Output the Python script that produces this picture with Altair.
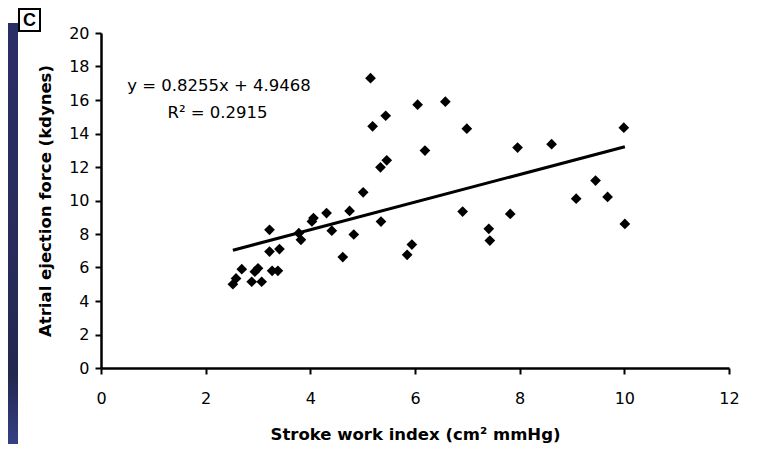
import altair as alt
import pandas as pd

# Data
stroke_work = [2.52, 2.58, 2.69, 2.88, 2.94, 3.00, 3.07, 3.22, 3.22, 3.27, 3.38, 3.41,
               3.78, 3.82, 4.03, 4.06, 4.31, 4.41, 4.62, 4.75, 4.83, 5.01, 5.15, 5.19,
               5.35, 5.34, 5.44, 5.46, 5.85, 5.94, 6.05, 6.19, 6.58, 6.91, 6.99, 7.41,
               7.43, 7.82, 7.96, 8.61, 9.08, 9.45, 9.68, 9.99, 10.01]
ejection_force = [5.00, 5.35, 5.90, 5.15, 5.75, 5.95, 5.15, 6.95, 8.25, 5.80, 5.80, 7.10,
                  8.05, 7.65, 8.75, 8.95, 9.25, 8.20, 6.62, 9.38, 7.97, 10.49, 17.30, 14.43,
                  8.74, 11.98, 15.06, 12.40, 6.76, 7.37, 15.72, 12.98, 15.90, 9.34, 14.29, 8.31,
                  7.61, 9.20, 13.16, 13.36, 10.11, 11.19, 10.21, 14.35, 8.60]

# Trend line endpoints (y = 0.8255x + 4.9468 at the data's min / max x)
trend_x = [2.52, 10.01]
trend_y = [7.03, 13.21]

equation_lines = ["y = 0.8255x + 4.9468", "R² = 0.2915"]
equation_x = [0.5, 1.27]
equation_y = [16.83, 15.2]

x_ticks = [0, 2, 4, 6, 8, 10, 12]
y_ticks = [0, 2, 4, 6, 8, 10, 12, 14, 16, 18, 20]

FONT = "Liberation Sans"
WIDE = "DejaVu Sans"

pts = pd.DataFrame({"x": stroke_work, "y": ejection_force})
trend = pd.DataFrame({"x": trend_x, "y": trend_y})
eq = pd.DataFrame({"x": equation_x, "y": equation_y, "t": equation_lines})
one = pd.DataFrame({"a": [0]})

xscale = alt.Scale(domain=[0, 12], nice=False, zero=False)
yscale = alt.Scale(domain=[0, 20], nice=False, zero=False)

x_axis = alt.Axis(values=x_ticks, title="Stroke work index (cm² mmHg)", grid=False,
                  domainColor="black", domainWidth=2.5, tickColor="black", tickWidth=2,
                  tickSize=6, labelPadding=16, labelFontSize=16, labelFont=WIDE,
                  labelColor="black", titleFont=WIDE, titleFontSize=16.5,
                  titleFontWeight="bold", titleColor="black", titlePadding=20,
                  labelFlush=False, labelOverlap=False)
y_axis = alt.Axis(values=y_ticks, title="Atrial ejection force (kdynes)", grid=False,
                  domainColor="black", domainWidth=2.5, tickColor="black", tickWidth=2,
                  tickSize=6, labelPadding=6, labelFontSize=16, labelFont=WIDE,
                  labelColor="black", titleFont=WIDE, titleFontSize=16.5,
                  titleFontWeight="bold", titleColor="black", titlePadding=15,
                  labelFlush=False, labelOverlap=False)

band = alt.Chart(one).mark_rect(
    color=alt.Gradient(
        gradient="linear", x1=0, y1=0, x2=0, y2=1,
        stops=[alt.GradientStop(color="#2a2e66", offset=0),
               alt.GradientStop(color="#272c5c", offset=0.5),
               alt.GradientStop(color="#222850", offset=0.82),
               alt.GradientStop(color="#38448c", offset=1)])
).encode(x=alt.value(-93), x2=alt.value(-83), y=alt.value(-10), y2=alt.value(420))

cbox = alt.Chart(one).mark_rect(fill="white", stroke="black", strokeWidth=2).encode(
    x=alt.value(-82), x2=alt.value(-61), y=alt.value(-24), y2=alt.value(-2))
ctext = alt.Chart(one).mark_text(text="C", font=FONT, fontSize=18, fontWeight="bold",
                                 color="black", align="center", baseline="middle").encode(
    x=alt.value(-71.5), y=alt.value(-12.5))

points = alt.Chart(pts).mark_point(shape="diamond", filled=True, color="black",
                                   size=115, opacity=1).encode(
    x=alt.X("x:Q", scale=xscale, axis=x_axis),
    y=alt.Y("y:Q", scale=yscale, axis=y_axis))

line = alt.Chart(trend).mark_line(color="black", strokeWidth=3).encode(
    x=alt.X("x:Q", scale=xscale, axis=x_axis),
    y=alt.Y("y:Q", scale=yscale, axis=y_axis))

eq_text = alt.Chart(eq).mark_text(font=WIDE, fontSize=16.5, color="black", align="left",
                                  baseline="middle").encode(
    x=alt.X("x:Q", scale=xscale, axis=x_axis),
    y=alt.Y("y:Q", scale=yscale, axis=y_axis),
    text="t:N")

chart = alt.layer(band, cbox, ctext, points, line, eq_text).properties(
    width=628, height=335,
    autosize=alt.AutoSizeParams(type="none"),
    padding={"left": 93, "top": 25, "right": 25, "bottom": 76},
    background="white",
).configure_view(stroke=None)

chart.save("out.html", embed_options={"renderer": "svg", "actions": False})
